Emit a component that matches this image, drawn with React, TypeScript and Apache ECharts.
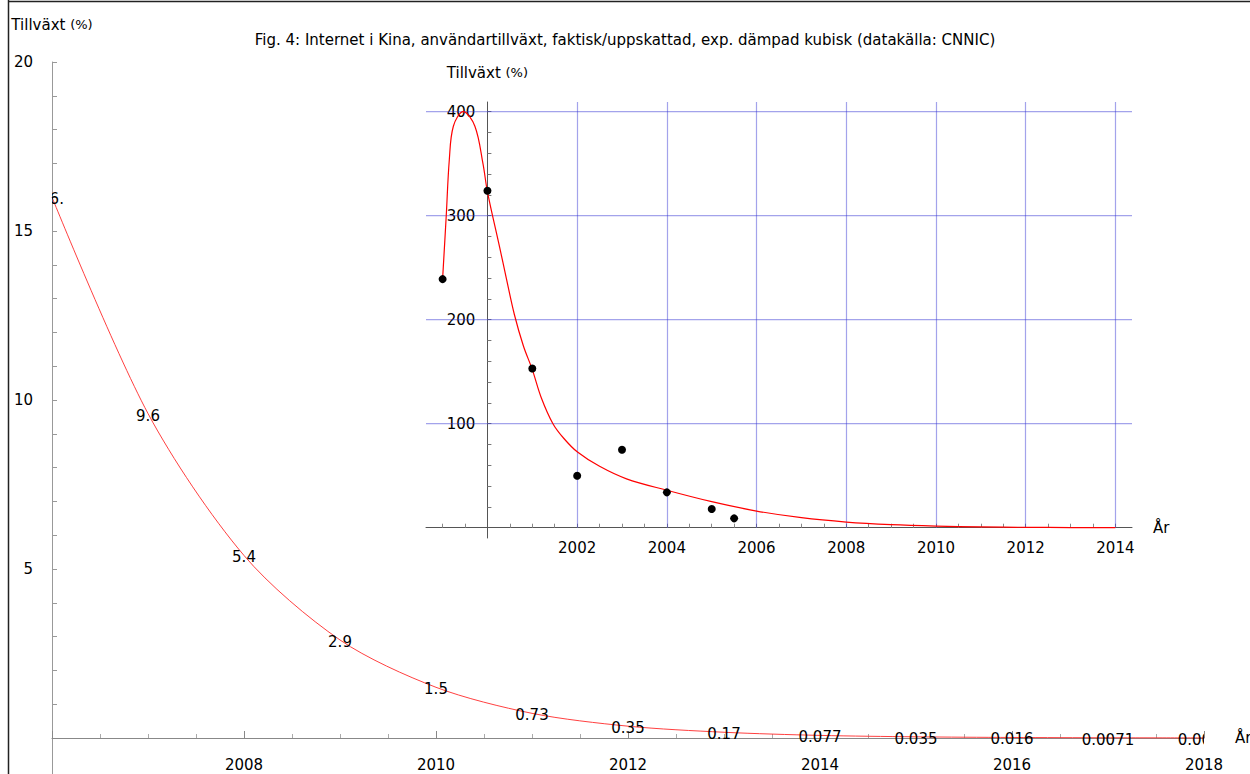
import React, { useEffect, useRef } from 'react';
import * as echarts from 'echarts';

// ---- Main chart data (fitted growth, %) ----
const mainYears = [2006, 2007, 2008, 2009, 2010, 2011, 2012, 2013, 2014, 2015, 2016, 2017, 2018];
const mainValues = [16, 9.6, 5.4, 2.9, 1.5, 0.73, 0.35, 0.17, 0.077, 0.035, 0.016, 0.0071, 0.0032];
const mainYTickLabels = [5, 10, 15, 20];
const mainYTicks = [1, 2, 3, 4, 5, 6, 7, 8, 9, 10, 11, 12, 13, 14, 15, 16, 17, 18, 19, 20];

// ---- Inset data ----
const obsYears = [1999, 2000, 2001, 2002, 2003, 2004, 2005, 2005.5];
const obsValues = [239, 324, 153, 50, 75, 34, 18, 9];
const fitYears = [1999.0, 1999.08, 1999.15, 1999.24, 1999.46, 1999.72, 1999.9, 2000.0, 2000.27, 2000.42, 2000.6, 2000.8, 2001.0, 2001.2, 2001.46, 2001.7, 2002.0, 2002.5, 2003.1, 2004.0, 2005.0, 2006.0, 2007.0, 2008.0, 2009.0, 2010.0, 2011.0, 2012.0, 2013.0, 2014.0];
const fitValues = [239, 299, 354, 386, 400, 386, 350, 323, 270, 240, 205, 175, 152, 125, 100, 86, 73, 59, 47, 36, 25, 16, 9.6, 5.4, 2.9, 1.5, 0.73, 0.35, 0.17, 0.077];
const insetXTickLabels = [2002, 2004, 2006, 2008, 2010, 2012, 2014];
const insetXTicks = [1999, 1999.5, 2000.5, 2001, 2001.5, 2002, 2002.5, 2003, 2003.5, 2004, 2004.5, 2005, 2005.5, 2006, 2006.5, 2007, 2007.5, 2008, 2008.5, 2009, 2009.5, 2010, 2010.5, 2011, 2011.5, 2012, 2012.5, 2013, 2013.5, 2014];
const insetYTickLabels = [100, 200, 300, 400];
const insetYTicks = [20, 40, 60, 80, 100, 120, 140, 160, 180, 200, 220, 240, 260, 280, 300, 320, 340, 360, 380, 400];
const insetGridYears = [2002, 2004, 2006, 2008, 2010, 2012, 2014];

const FONT = '"DejaVu Sans", sans-serif';
const INSET_YMAX = 409.3;
const INSET_YMIN = -9.9;
const INSET_XMIN = 1998.63;
const INSET_XMAX = 2014.37;
const GRID_BLUE = 'rgba(50,50,210,0.45)';

function fmtLabel(v: number): string {
  return Number.isInteger(v) ? v + '.' : String(v);
}

export default function App() {
  const ref = useRef<HTMLDivElement>(null);
  useEffect(() => {
    if (!ref.current) return;
    const chart = echarts.init(ref.current, undefined, { renderer: 'svg' });
    const mainData = mainYears.map((y, i) => [y, mainValues[i]]);
    const gridLineStyle = { color: GRID_BLUE, width: 1.2, type: 'solid' as const };
    const markData: any[] = insetGridYears.map((y) => [
      { coord: [y, 0], lineStyle: gridLineStyle },
      { coord: [y, INSET_YMAX], lineStyle: gridLineStyle },
    ]);
    const yearFmt = (v: number) => String(v);
    chart.setOption({
      animation: false,
      backgroundColor: '#fff',
      title: {
        text: 'Fig. 4: Internet i Kina, användartillväxt, faktisk/uppskattad, exp. dämpad kubisk (datakälla: CNNIC)',
        left: 'center',
        top: 27,
        textStyle: { fontSize: 15, fontWeight: 'normal', fontFamily: FONT, color: '#000' },
      },
      graphic: [
        { type: 'line', shape: { x1: 8.5, y1: 0, x2: 8.5, y2: 774 }, style: { stroke: '#222', lineWidth: 1.5 } },
        { type: 'line', shape: { x1: 8, y1: 1.5, x2: 1250, y2: 1.5 }, style: { stroke: '#222', lineWidth: 1.5 } },
      ],
      grid: [
        { left: 52, right: 46, top: 62, bottom: 0, outerBoundsMode: 'none' },
        { left: 426, right: 118, top: 102, bottom: 236, outerBoundsMode: 'none' },
      ],
      xAxis: [
        {
          type: 'value', gridIndex: 0, min: 2006, max: 2018, interval: 2, position: 'bottom',
          axisLine: { onZero: true, lineStyle: { color: '#888', width: 1 } },
          axisTick: { inside: true, length: 7, lineStyle: { color: '#888' } },
          minorTick: { show: true, splitNumber: 4, length: 4, lineStyle: { color: '#aaa' } },
          splitLine: { show: false },
          axisLabel: { showMinLabel: false, margin: -17, fontSize: 15, fontFamily: FONT, color: '#000', formatter: yearFmt },
          name: 'År', nameLocation: 'end', nameGap: 31,
          nameTextStyle: { fontSize: 15, fontFamily: FONT, color: '#000' },
        },
        {
          type: 'value', gridIndex: 1, min: INSET_XMIN, max: INSET_XMAX, position: 'bottom',
          axisLine: { onZero: true, lineStyle: { color: '#555', width: 1 } },
          axisTick: { inside: true, length: 4, customValues: insetXTicks, lineStyle: { color: '#888' } },
          splitLine: { show: false },
          axisLabel: { customValues: insetXTickLabels, margin: 2, fontSize: 15, fontFamily: FONT, color: '#000', formatter: yearFmt },
          name: 'År', nameLocation: 'end', nameGap: 21,
          nameTextStyle: { fontSize: 15, fontFamily: FONT, color: '#000' },
        },
      ],
      yAxis: [
        {
          type: 'value', gridIndex: 0, min: -1.065, max: 20, position: 'left',
          axisLine: { onZero: false, lineStyle: { color: '#999', width: 1 } },
          axisTick: { inside: true, length: 5, customValues: mainYTicks, lineStyle: { color: '#999' } },
          splitLine: { show: false },
          axisLabel: { customValues: mainYTickLabels, margin: 19, fontSize: 15, fontFamily: FONT, color: '#000' },
          name: 'Tillväxt {s|(%)}', nameLocation: 'end', nameGap: 30,
          nameTextStyle: { fontSize: 15, fontFamily: FONT, color: '#000', rich: { s: { fontSize: 13, fontFamily: FONT, color: '#000' } } },
        },
        {
          type: 'value', gridIndex: 1, min: INSET_YMIN, max: INSET_YMAX, position: 'left', offset: -61.4,
          axisLine: { onZero: false, lineStyle: { color: '#555', width: 1 } },
          axisTick: { inside: true, length: 4, customValues: insetYTicks, lineStyle: { color: '#777' } },
          splitLine: { show: false },
          axisLabel: { customValues: insetYTickLabels, margin: 12, fontSize: 15, fontFamily: FONT, color: '#000' },
          name: 'Tillväxt {s|(%)}', nameLocation: 'end', nameGap: 22,
          nameTextStyle: { fontSize: 15, fontFamily: FONT, color: '#000', rich: { s: { fontSize: 13, fontFamily: FONT, color: '#000' } } },
        },
      ],
      series: [
        {
          type: 'line', xAxisIndex: 0, yAxisIndex: 0, data: mainData, smooth: 0.3, symbol: 'none',
          lineStyle: { color: '#ff2a2a', width: 0.9 }, z: 3,
        },
        {
          type: 'custom', xAxisIndex: 0, yAxisIndex: 0, data: mainData, clip: true, z: 4,
          renderItem: (params: any, api: any) => {
            const pt = api.coord([api.value(0), api.value(1)]);
            return {
              type: 'text', x: pt[0], y: pt[1] + 2,
              style: {
                text: fmtLabel(mainValues[params.dataIndex]), fill: '#000',
                fontSize: 15, fontFamily: FONT, align: 'center', verticalAlign: 'middle',
              },
            };
          },
        },
        {
          // horizontal blue grid bands of the inset, drawn as thin filled rects
          type: 'custom', xAxisIndex: 1, yAxisIndex: 1, data: insetYTickLabels.map((v) => [v]), z: 1,
          silent: true,
          renderItem: (params: any, api: any) => {
            const v = api.value(0);
            const a = api.coord([INSET_XMIN, v]);
            const b = api.coord([INSET_XMAX, v]);
            return {
              type: 'rect',
              shape: { x: a[0], y: a[1] - 0.6, width: b[0] - a[0], height: 1.2 },
              style: { fill: GRID_BLUE, stroke: 'none' },
            };
          },
        },
        {
          type: 'line', xAxisIndex: 1, yAxisIndex: 1, data: fitYears.map((y, i) => [y, fitValues[i]]),
          smooth: 0.35, symbol: 'none', lineStyle: { color: '#ff0000', width: 1.2 }, z: 3,
          markLine: {
            silent: true, symbol: ['none', 'none'], z: 1, animation: false,
            label: { show: false }, lineStyle: gridLineStyle, emphasis: { disabled: true },
            data: markData,
          },
        },
        {
          type: 'scatter', xAxisIndex: 1, yAxisIndex: 1, data: obsYears.map((y, i) => [y, obsValues[i]]),
          symbol: 'circle', symbolSize: 8, itemStyle: { color: '#000', opacity: 1 }, z: 5,
        },
      ],
    });
    return () => chart.dispose();
  }, []);
  return <div ref={ref} style={{ position: 'fixed', left: 0, top: 0, width: 1250, height: 774 }} />;
}
